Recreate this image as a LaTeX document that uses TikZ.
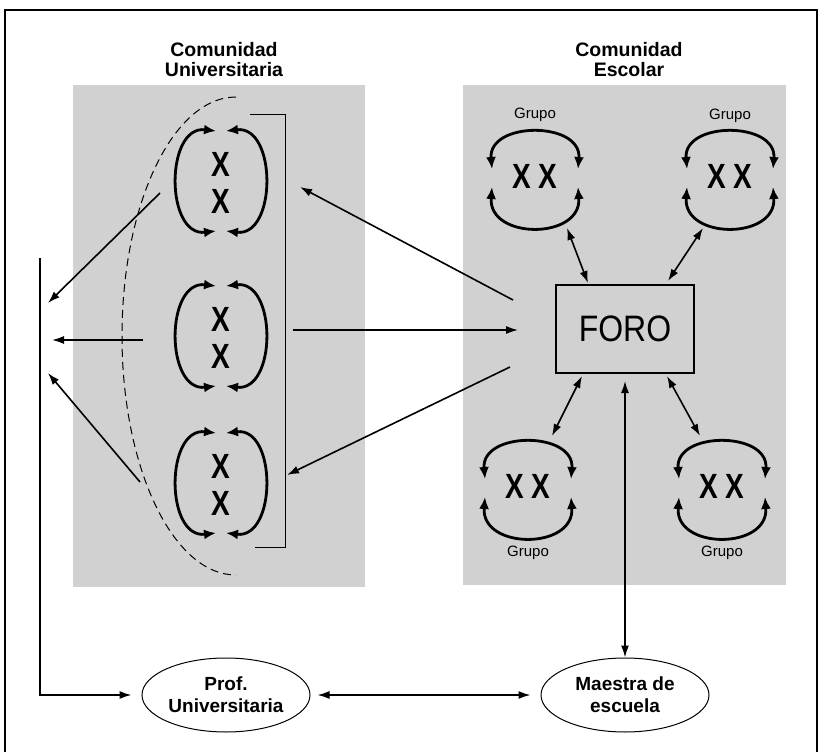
\documentclass[tikz,border=0pt]{standalone}
\usepackage{fontspec}
\usepackage{graphicx}
\setmainfont{Liberation Sans}
\usetikzlibrary{arrows.meta,shapes.geometric,calc}
\begin{document}
\begin{tikzpicture}[x=1pt,y=-1pt,
  panel/.style={fill=black!18,draw=none},
  title/.style={font=\fontsize{19.5}{20}\selectfont\bfseries,align=center,inner sep=0pt},
  conn/.style={line width=1.6pt,-{Latex[length=12pt,width=8pt]}},
  dconn/.style={line width=1.6pt,{Latex[length=12pt,width=8pt]}-{Latex[length=12pt,width=8pt]}},
  loopline/.style={line width=2.8pt,{Latex[length=12pt,width=10pt]}-{Latex[length=12pt,width=10pt]}},
  bigx/.style={font=\fontsize{28}{28}\selectfont\bfseries,inner sep=0pt},
  grplabel/.style={font=\fontsize{15}{16}\selectfont,inner sep=0pt},
  person/.style={ellipse,draw,line width=1pt,minimum width=168,minimum height=74,inner sep=0pt,
    align=center,font=\fontsize{19}{22}\selectfont\bfseries},
  forobox/.style={draw,line width=2pt,minimum width=138,minimum height=88,inner sep=0pt,
    font=\fontsize{32}{32}\selectfont},
  bracket/.style={line width=1pt},
  dashcurve/.style={line width=1pt,dash pattern=on 8pt off 5pt},
  frame/.style={line width=1.5pt}
]
\useasboundingbox (0,0) rectangle (820,752);
% frame
\draw[frame] (5,752) -- (5,10) -- (817,10) -- (817,752);
% panels
\fill[panel] (73,85) rectangle (365,587);
\fill[panel] (463,85) rectangle (786,585);
% titles
\node[title] (tu) at (224,60) {Comunidad\\Universitaria};
\node[title] (te) at (629,60) {Comunidad\\Escolar};

% left column loops
\foreach \n/\cy in {1/181,2/336,3/483} {
  \node[bigx] (Lx\n a) at (221,\cy-17) {\scalebox{1}[1.25]{X}};
  \node[bigx] (Lx\n b) at (221,\cy+20) {\scalebox{1}[1.25]{X}};
  \draw[loopline] (216,\cy-50) .. controls (165,\cy-56) and (165,\cy+56) .. (216,\cy+50);
  \draw[loopline] (226,\cy-50) .. controls (277,\cy-56) and (277,\cy+56) .. (226,\cy+50);
}
% bracket
\draw[bracket] (250,115) -- (285,115) -- (285,547) -- (255,547);
% dashed curve
\draw[dashcurve] (236,97) .. controls (173,97) and (122,204) .. (122,336)
                 .. controls (122,468) and (173,575) .. (236,575);

% groups
\foreach \n/\cx/\cy/\ly in {1/535/178/115, 2/730/178/116, 3/528/488/553, 4/722/488/553} {
  \draw[loopline] (\cx-43,\cy-9) .. controls (\cx-47,\cy-57) and (\cx+47,\cy-57) .. (\cx+43,\cy-9);
  \draw[loopline] (\cx-43,\cy+9) .. controls (\cx-47,\cy+62) and (\cx+47,\cy+62) .. (\cx+43,\cy+9);
  \node[bigx] (g\n) at (\cx,\cy-2) {\scalebox{1}[1.25]{X X}};
  \node[grplabel] (gl\n) at (\cx,\ly) {Grupo};
}

% FORO
\node[forobox] (foro) at (625,329) {\scalebox{1}[1.15]{FORO}};

% persons
\node[person] (prof) at (226,695) {Prof.\\Universitaria};
\node[person] (maestra) at (625,695) {Maestra de\\escuela};

% connector end points
\coordinate (g1b) at (567,228);
\coordinate (f1t) at (588,283);
\coordinate (g2b) at (703,228);
\coordinate (f2t) at (668,281);
\coordinate (f3b) at (582,376);
\coordinate (g3t) at (552,436);
\coordinate (f4b) at (667,376);
\coordinate (g4t) at (700,436);

\draw[dconn] (g1b) -- (f1t);
\draw[dconn] (g2b) -- (f2t);
\draw[dconn] (f3b) -- (g3t);
\draw[dconn] (f4b) -- (g4t);
\draw[dconn,shorten <=7pt] (foro.south) -- (maestra.north);

% foro <-> university
\coordinate (fa) at (513,300);
\coordinate (ua) at (300,187);
\coordinate (ub) at (293,330);
\coordinate (fb) at (518,330);
\coordinate (fc) at (510,367);
\coordinate (uc) at (287,475);
\draw[conn] (fa) -- (ua);
\draw[conn] (ub) -- (fb);
\draw[conn] (fc) -- (uc);

% university -> left line
\coordinate (vtop) at (40,258);
\coordinate (a1s) at (160,193);
\coordinate (a1e) at (48,303);
\coordinate (a2s) at (143,340);
\coordinate (a2e) at (52,340);
\coordinate (a3s) at (140,482);
\coordinate (a3e) at (48,373);
\draw[conn] (a1s) -- (a1e);
\draw[conn] (a2s) -- (a2e);
\draw[conn] (a3s) -- (a3e);
\draw[conn,shorten >=10pt] (vtop) |- (prof.west);

% prof <-> maestra
\draw[dconn,shorten <=7pt,shorten >=10pt] (prof.east) -- (maestra.west);
\end{tikzpicture}
\end{document}
